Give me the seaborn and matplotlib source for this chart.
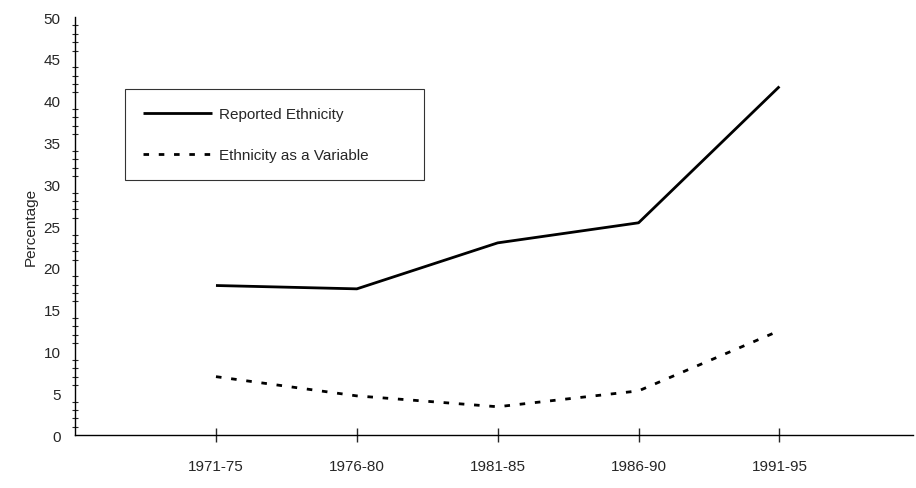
import pandas as pd
import seaborn as sns
import matplotlib.pyplot as plt
from matplotlib.ticker import MultipleLocator

# datos
periods = ['1971-75', '1976-80', '1981-85', '1986-90', '1991-95']
reported = [17.9, 17.5, 23.0, 25.4, 41.7]
variable = [7.0, 4.7, 3.4, 5.3, 12.5]
series_names = ['Reported Ethnicity', 'Ethnicity as a Variable']

df = pd.DataFrame({
    'period': periods * 2,
    'pct': reported + variable,
    'series': [series_names[0]] * len(periods) + [series_names[1]] * len(periods),
})

sns.set_style('white')
plt.rcParams['font.family'] = ['Liberation Sans', 'DejaVu Sans']

fig = plt.figure(figsize=(9.16, 4.89), dpi=100)
ax = fig.add_axes([0.082, 0.108, 0.915, 0.855])

sns.lineplot(data=df, x='period', y='pct', hue='series', style='series',
             palette=['black', 'black'], dashes=[(1, 0), (2, 3.5)],
             linewidth=2, ax=ax, sort=False)

ax.set_ylim(0, 50)
ax.set_xlim(-1, 4.95)
ax.yaxis.set_major_locator(MultipleLocator(5))
ax.yaxis.set_minor_locator(MultipleLocator(1))
ax.set_xticks(range(len(periods)))
ax.set_xticklabels(periods)
ax.tick_params(axis='y', which='major', direction='inout', length=9, width=1, labelsize=11, pad=6)
ax.tick_params(axis='y', which='minor', direction='inout', length=5, width=0.8, left=True)
ax.tick_params(axis='x', which='major', direction='inout', length=10, width=1, labelsize=11, pad=12, bottom=True)

for s in ['top', 'right']:
    ax.spines[s].set_visible(False)
for s in ['left', 'bottom']:
    ax.spines[s].set_color('black')
    ax.spines[s].set_linewidth(1)

ax.set_xlabel('')
ax.set_ylabel('Percentage', fontsize=11, labelpad=4)

# leyenda con caja ancha como en el original
leg = ax.legend(loc='upper left', bbox_to_anchor=(0.059, 0.60, 0.357, 0.228),
                mode='expand', frameon=True, fancybox=False, fontsize=11,
                handlelength=4.5, labelspacing=1.75, borderpad=1.2,
                edgecolor='black', handletextpad=0.5, borderaxespad=0)
leg.get_frame().set_linewidth(0.8)
leg.set_title(None)

fig.savefig('out.png', dpi=100)
